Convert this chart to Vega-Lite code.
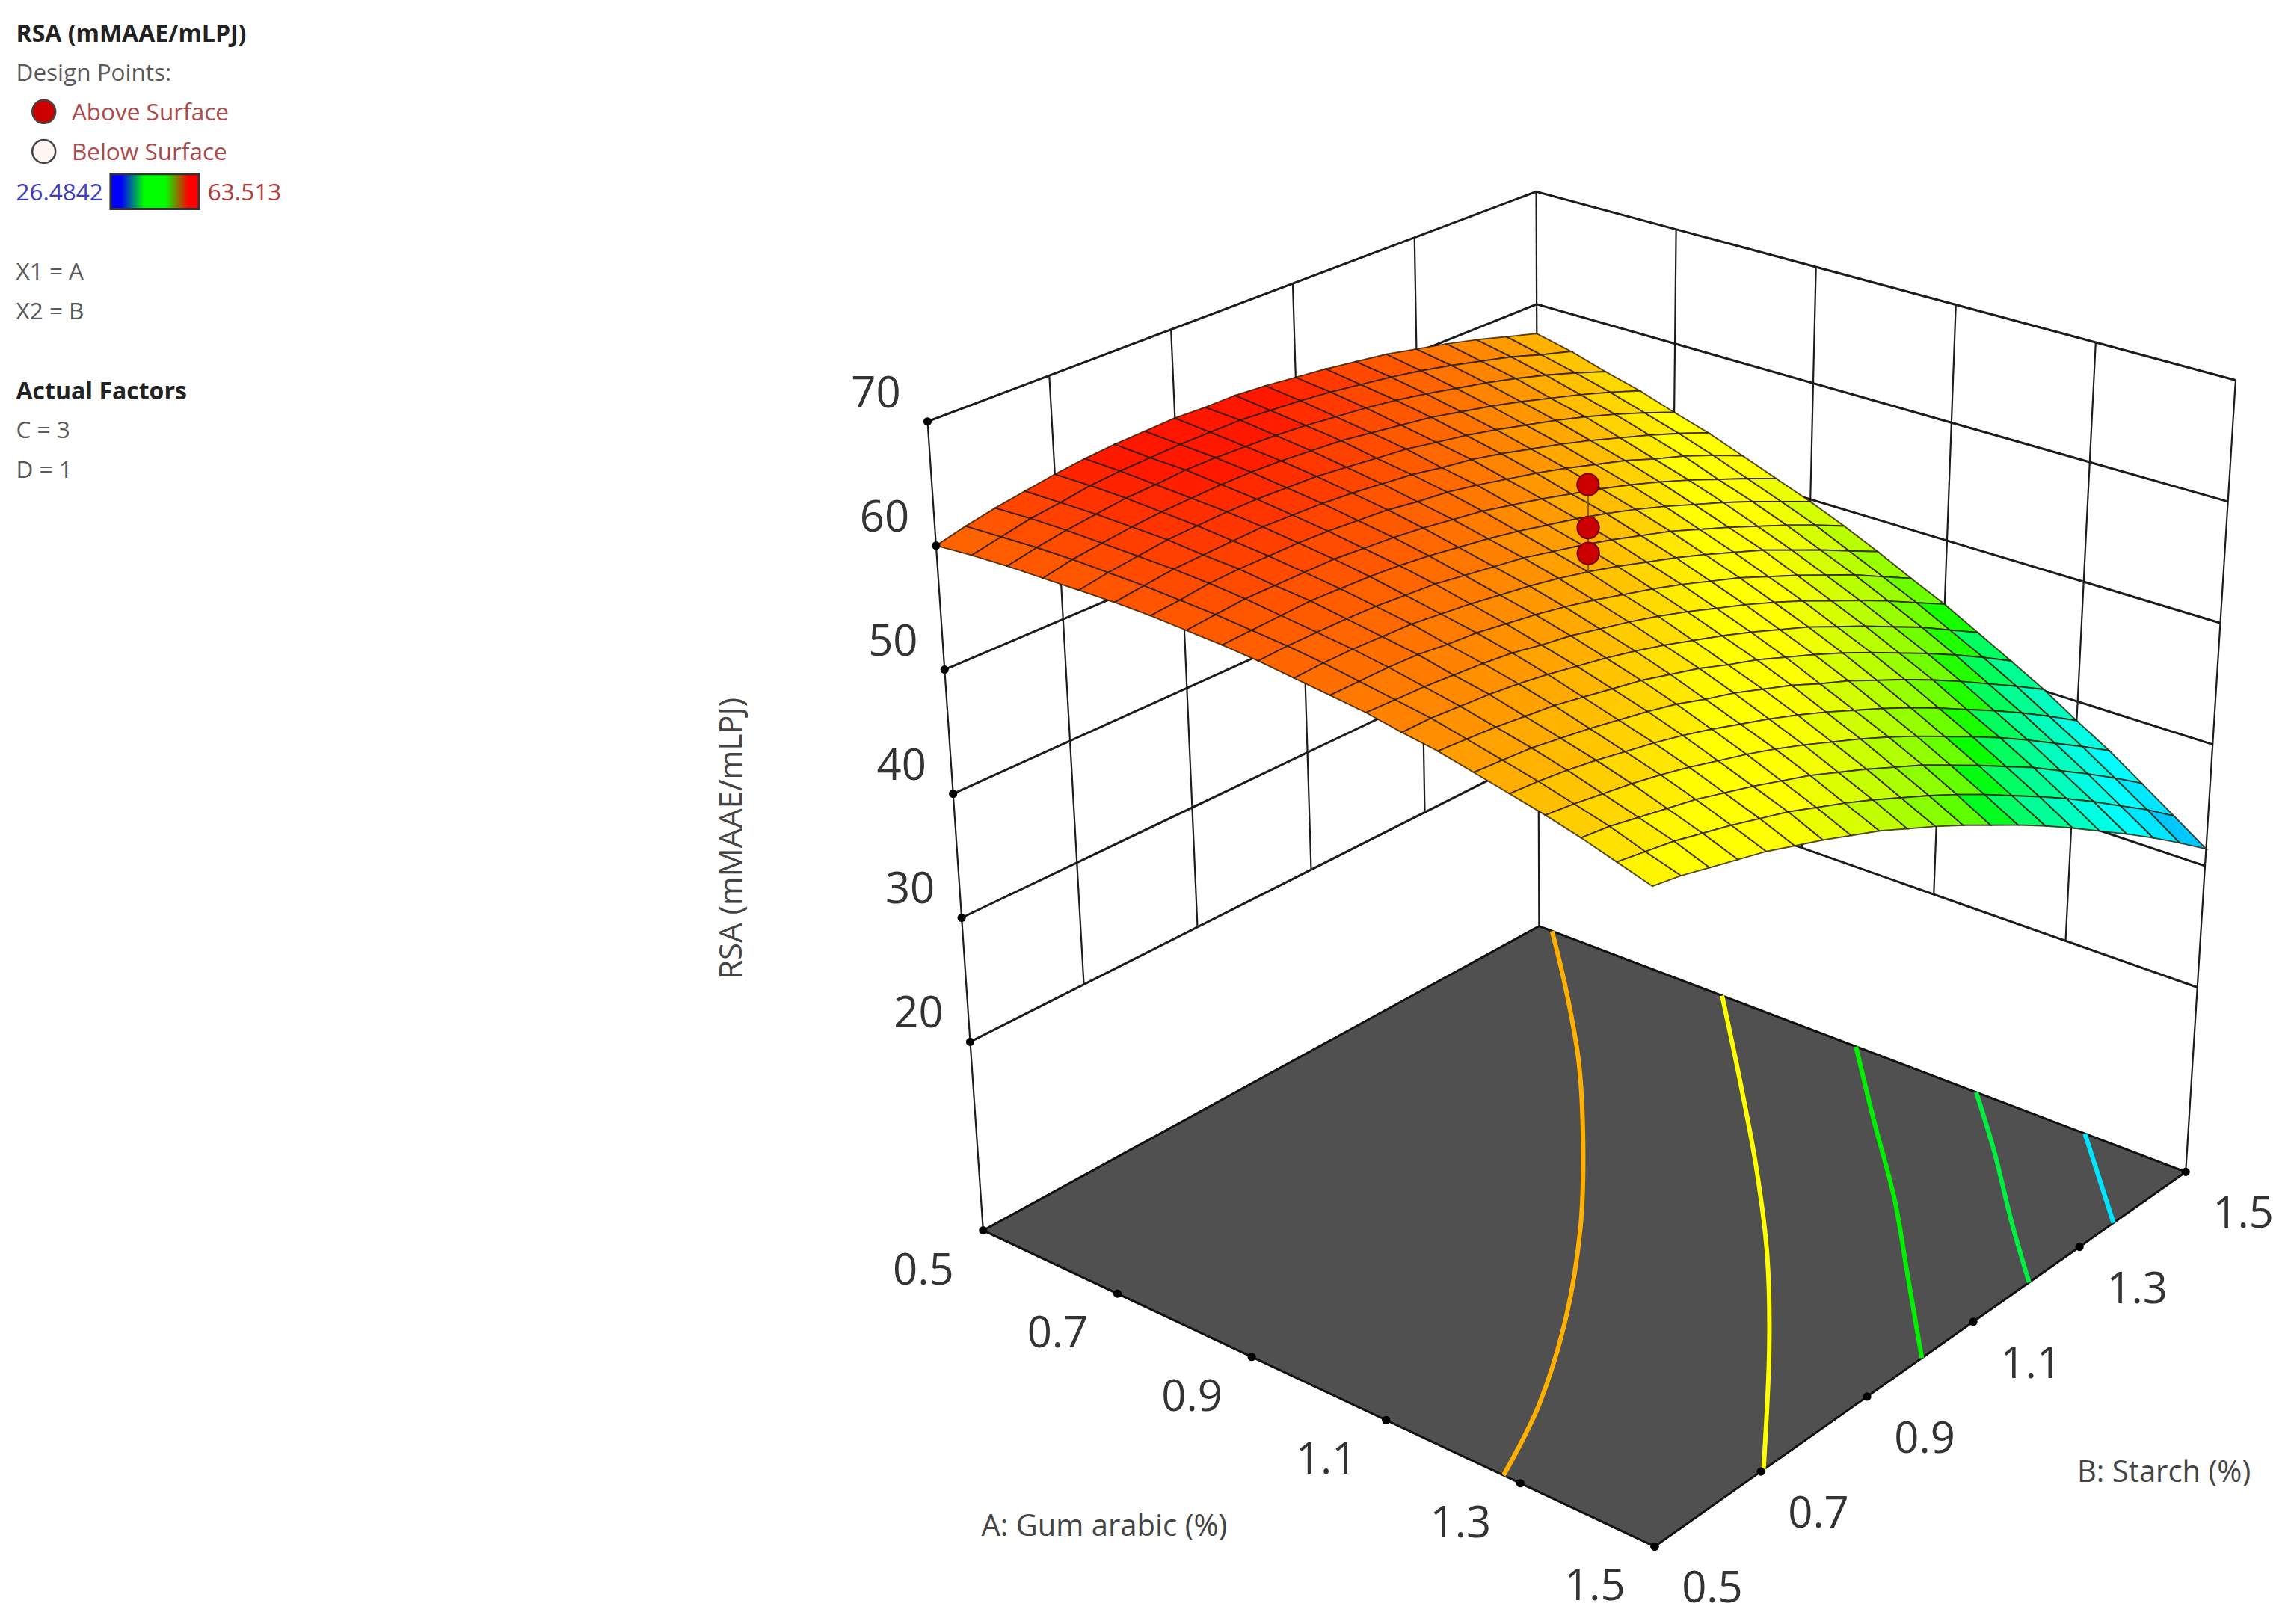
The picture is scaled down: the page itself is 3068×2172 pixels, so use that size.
{"$schema":"https://vega.github.io/schema/vega-lite/v6.json","width":3068,"height":2172,"autosize":{"type":"fit","contains":"padding"},"padding":0,"background":"white","config":{"view":{"stroke":null}},
"datasets":{
"surface":[
{"a":0.5,"b":0.5,"z":60.0},{"a":0.5,"b":0.55,"z":60.6},{"a":0.5,"b":0.6,"z":61.1},{"a":0.5,"b":0.65,"z":61.5},{"a":0.5,"b":0.7,"z":61.9},{"a":0.5,"b":0.75,"z":62.2},{"a":0.5,"b":0.8,"z":62.4},{"a":0.5,"b":0.85,"z":62.5},{"a":0.5,"b":0.9,"z":62.6},{"a":0.5,"b":0.95,"z":62.5},{"a":0.5,"b":1,"z":62.5},{"a":0.5,"b":1.05,"z":62.3},{"a":0.5,"b":1.1,"z":62.0},{"a":0.5,"b":1.15,"z":61.7},{"a":0.5,"b":1.2,"z":61.3},{"a":0.5,"b":1.25,"z":60.9},{"a":0.5,"b":1.3,"z":60.3},{"a":0.5,"b":1.35,"z":59.7},{"a":0.5,"b":1.4,"z":59.0},{"a":0.5,"b":1.45,"z":58.2},{"a":0.5,"b":1.5,"z":57.4},
{"a":0.55,"b":0.5,"z":60.3},{"a":0.55,"b":0.55,"z":60.8},{"a":0.55,"b":0.6,"z":61.3},{"a":0.55,"b":0.65,"z":61.6},{"a":0.55,"b":0.7,"z":62.0},{"a":0.55,"b":0.75,"z":62.2},{"a":0.55,"b":0.8,"z":62.3},{"a":0.55,"b":0.85,"z":62.4},{"a":0.55,"b":0.9,"z":62.4},{"a":0.55,"b":0.95,"z":62.4},{"a":0.55,"b":1,"z":62.2},{"a":0.55,"b":1.05,"z":62.0},{"a":0.55,"b":1.1,"z":61.7},{"a":0.55,"b":1.15,"z":61.3},{"a":0.55,"b":1.2,"z":60.9},{"a":0.55,"b":1.25,"z":60.4},{"a":0.55,"b":1.3,"z":59.8},{"a":0.55,"b":1.35,"z":59.1},{"a":0.55,"b":1.4,"z":58.4},{"a":0.55,"b":1.45,"z":57.5},{"a":0.55,"b":1.5,"z":56.7},
{"a":0.6,"b":0.5,"z":60.5},{"a":0.6,"b":0.55,"z":61.0},{"a":0.6,"b":0.6,"z":61.4},{"a":0.6,"b":0.65,"z":61.7},{"a":0.6,"b":0.7,"z":62.0},{"a":0.6,"b":0.75,"z":62.1},{"a":0.6,"b":0.8,"z":62.3},{"a":0.6,"b":0.85,"z":62.3},{"a":0.6,"b":0.9,"z":62.2},{"a":0.6,"b":0.95,"z":62.1},{"a":0.6,"b":1,"z":61.9},{"a":0.6,"b":1.05,"z":61.6},{"a":0.6,"b":1.1,"z":61.3},{"a":0.6,"b":1.15,"z":60.9},{"a":0.6,"b":1.2,"z":60.4},{"a":0.6,"b":1.25,"z":59.8},{"a":0.6,"b":1.3,"z":59.2},{"a":0.6,"b":1.35,"z":58.5},{"a":0.6,"b":1.4,"z":57.7},{"a":0.6,"b":1.45,"z":56.8},{"a":0.6,"b":1.5,"z":55.8},
{"a":0.65,"b":0.5,"z":60.6},{"a":0.65,"b":0.55,"z":61.1},{"a":0.65,"b":0.6,"z":61.4},{"a":0.65,"b":0.65,"z":61.7},{"a":0.65,"b":0.7,"z":61.9},{"a":0.65,"b":0.75,"z":62.0},{"a":0.65,"b":0.8,"z":62.1},{"a":0.65,"b":0.85,"z":62.1},{"a":0.65,"b":0.9,"z":62.0},{"a":0.65,"b":0.95,"z":61.8},{"a":0.65,"b":1,"z":61.6},{"a":0.65,"b":1.05,"z":61.2},{"a":0.65,"b":1.1,"z":60.8},{"a":0.65,"b":1.15,"z":60.4},{"a":0.65,"b":1.2,"z":59.8},{"a":0.65,"b":1.25,"z":59.2},{"a":0.65,"b":1.3,"z":58.5},{"a":0.65,"b":1.35,"z":57.7},{"a":0.65,"b":1.4,"z":56.9},{"a":0.65,"b":1.45,"z":56.0},{"a":0.65,"b":1.5,"z":55.0},
{"a":0.7,"b":0.5,"z":60.7},{"a":0.7,"b":0.55,"z":61.1},{"a":0.7,"b":0.6,"z":61.4},{"a":0.7,"b":0.65,"z":61.7},{"a":0.7,"b":0.7,"z":61.8},{"a":0.7,"b":0.75,"z":61.9},{"a":0.7,"b":0.8,"z":61.9},{"a":0.7,"b":0.85,"z":61.8},{"a":0.7,"b":0.9,"z":61.7},{"a":0.7,"b":0.95,"z":61.4},{"a":0.7,"b":1,"z":61.1},{"a":0.7,"b":1.05,"z":60.8},{"a":0.7,"b":1.1,"z":60.3},{"a":0.7,"b":1.15,"z":59.8},{"a":0.7,"b":1.2,"z":59.2},{"a":0.7,"b":1.25,"z":58.5},{"a":0.7,"b":1.3,"z":57.8},{"a":0.7,"b":1.35,"z":57.0},{"a":0.7,"b":1.4,"z":56.1},{"a":0.7,"b":1.45,"z":55.1},{"a":0.7,"b":1.5,"z":54.0},
{"a":0.75,"b":0.5,"z":60.8},{"a":0.75,"b":0.55,"z":61.1},{"a":0.75,"b":0.6,"z":61.4},{"a":0.75,"b":0.65,"z":61.5},{"a":0.75,"b":0.7,"z":61.6},{"a":0.75,"b":0.75,"z":61.7},{"a":0.75,"b":0.8,"z":61.6},{"a":0.75,"b":0.85,"z":61.5},{"a":0.75,"b":0.9,"z":61.3},{"a":0.75,"b":0.95,"z":61.0},{"a":0.75,"b":1,"z":60.7},{"a":0.75,"b":1.05,"z":60.2},{"a":0.75,"b":1.1,"z":59.8},{"a":0.75,"b":1.15,"z":59.2},{"a":0.75,"b":1.2,"z":58.5},{"a":0.75,"b":1.25,"z":57.8},{"a":0.75,"b":1.3,"z":57.0},{"a":0.75,"b":1.35,"z":56.1},{"a":0.75,"b":1.4,"z":55.2},{"a":0.75,"b":1.45,"z":54.2},{"a":0.75,"b":1.5,"z":53.1},
{"a":0.8,"b":0.5,"z":60.8},{"a":0.8,"b":0.55,"z":61.0},{"a":0.8,"b":0.6,"z":61.3},{"a":0.8,"b":0.65,"z":61.4},{"a":0.8,"b":0.7,"z":61.4},{"a":0.8,"b":0.75,"z":61.4},{"a":0.8,"b":0.8,"z":61.3},{"a":0.8,"b":0.85,"z":61.1},{"a":0.8,"b":0.9,"z":60.9},{"a":0.8,"b":0.95,"z":60.5},{"a":0.8,"b":1,"z":60.2},{"a":0.8,"b":1.05,"z":59.7},{"a":0.8,"b":1.1,"z":59.1},{"a":0.8,"b":1.15,"z":58.5},{"a":0.8,"b":1.2,"z":57.8},{"a":0.8,"b":1.25,"z":57.0},{"a":0.8,"b":1.3,"z":56.2},{"a":0.8,"b":1.35,"z":55.2},{"a":0.8,"b":1.4,"z":54.3},{"a":0.8,"b":1.45,"z":53.2},{"a":0.8,"b":1.5,"z":52.0},
{"a":0.85,"b":0.5,"z":60.7},{"a":0.85,"b":0.55,"z":60.9},{"a":0.85,"b":0.6,"z":61.1},{"a":0.85,"b":0.65,"z":61.1},{"a":0.85,"b":0.7,"z":61.1},{"a":0.85,"b":0.75,"z":61.1},{"a":0.85,"b":0.8,"z":60.9},{"a":0.85,"b":0.85,"z":60.7},{"a":0.85,"b":0.9,"z":60.4},{"a":0.85,"b":0.95,"z":60.0},{"a":0.85,"b":1,"z":59.6},{"a":0.85,"b":1.05,"z":59.0},{"a":0.85,"b":1.1,"z":58.4},{"a":0.85,"b":1.15,"z":57.7},{"a":0.85,"b":1.2,"z":57.0},{"a":0.85,"b":1.25,"z":56.2},{"a":0.85,"b":1.3,"z":55.3},{"a":0.85,"b":1.35,"z":54.3},{"a":0.85,"b":1.4,"z":53.2},{"a":0.85,"b":1.45,"z":52.1},{"a":0.85,"b":1.5,"z":50.9},
{"a":0.9,"b":0.5,"z":60.6},{"a":0.9,"b":0.55,"z":60.7},{"a":0.9,"b":0.6,"z":60.8},{"a":0.9,"b":0.65,"z":60.9},{"a":0.9,"b":0.7,"z":60.8},{"a":0.9,"b":0.75,"z":60.7},{"a":0.9,"b":0.8,"z":60.5},{"a":0.9,"b":0.85,"z":60.2},{"a":0.9,"b":0.9,"z":59.8},{"a":0.9,"b":0.95,"z":59.4},{"a":0.9,"b":1,"z":58.9},{"a":0.9,"b":1.05,"z":58.3},{"a":0.9,"b":1.1,"z":57.7},{"a":0.9,"b":1.15,"z":57.0},{"a":0.9,"b":1.2,"z":56.2},{"a":0.9,"b":1.25,"z":55.3},{"a":0.9,"b":1.3,"z":54.3},{"a":0.9,"b":1.35,"z":53.3},{"a":0.9,"b":1.4,"z":52.2},{"a":0.9,"b":1.45,"z":51.0},{"a":0.9,"b":1.5,"z":49.8},
{"a":0.95,"b":0.5,"z":60.4},{"a":0.95,"b":0.55,"z":60.5},{"a":0.95,"b":0.6,"z":60.5},{"a":0.95,"b":0.65,"z":60.5},{"a":0.95,"b":0.7,"z":60.4},{"a":0.95,"b":0.75,"z":60.2},{"a":0.95,"b":0.8,"z":60.0},{"a":0.95,"b":0.85,"z":59.6},{"a":0.95,"b":0.9,"z":59.2},{"a":0.95,"b":0.95,"z":58.8},{"a":0.95,"b":1,"z":58.2},{"a":0.95,"b":1.05,"z":57.6},{"a":0.95,"b":1.1,"z":56.9},{"a":0.95,"b":1.15,"z":56.1},{"a":0.95,"b":1.2,"z":55.3},{"a":0.95,"b":1.25,"z":54.3},{"a":0.95,"b":1.3,"z":53.3},{"a":0.95,"b":1.35,"z":52.2},{"a":0.95,"b":1.4,"z":51.1},{"a":0.95,"b":1.45,"z":49.9},{"a":0.95,"b":1.5,"z":48.6},
{"a":1,"b":0.5,"z":60.1},{"a":1,"b":0.55,"z":60.2},{"a":1,"b":0.6,"z":60.2},{"a":1,"b":0.65,"z":60.1},{"a":1,"b":0.7,"z":60.0},{"a":1,"b":0.75,"z":59.7},{"a":1,"b":0.8,"z":59.4},{"a":1,"b":0.85,"z":59.0},{"a":1,"b":0.9,"z":58.6},{"a":1,"b":0.95,"z":58.1},{"a":1,"b":1,"z":57.5},{"a":1,"b":1.05,"z":56.8},{"a":1,"b":1.1,"z":56.0},{"a":1,"b":1.15,"z":55.2},{"a":1,"b":1.2,"z":54.3},{"a":1,"b":1.25,"z":53.3},{"a":1,"b":1.3,"z":52.3},{"a":1,"b":1.35,"z":51.1},{"a":1,"b":1.4,"z":49.9},{"a":1,"b":1.45,"z":48.6},{"a":1,"b":1.5,"z":47.3},
{"a":1.05,"b":0.5,"z":59.8},{"a":1.05,"b":0.55,"z":59.8},{"a":1.05,"b":0.6,"z":59.8},{"a":1.05,"b":0.65,"z":59.7},{"a":1.05,"b":0.7,"z":59.4},{"a":1.05,"b":0.75,"z":59.2},{"a":1.05,"b":0.8,"z":58.8},{"a":1.05,"b":0.85,"z":58.4},{"a":1.05,"b":0.9,"z":57.9},{"a":1.05,"b":0.95,"z":57.3},{"a":1.05,"b":1,"z":56.6},{"a":1.05,"b":1.05,"z":55.9},{"a":1.05,"b":1.1,"z":55.1},{"a":1.05,"b":1.15,"z":54.2},{"a":1.05,"b":1.2,"z":53.3},{"a":1.05,"b":1.25,"z":52.2},{"a":1.05,"b":1.3,"z":51.1},{"a":1.05,"b":1.35,"z":49.9},{"a":1.05,"b":1.4,"z":48.7},{"a":1.05,"b":1.45,"z":47.3},{"a":1.05,"b":1.5,"z":45.9},
{"a":1.1,"b":0.5,"z":59.5},{"a":1.1,"b":0.55,"z":59.4},{"a":1.1,"b":0.6,"z":59.3},{"a":1.1,"b":0.65,"z":59.1},{"a":1.1,"b":0.7,"z":58.9},{"a":1.1,"b":0.75,"z":58.6},{"a":1.1,"b":0.8,"z":58.1},{"a":1.1,"b":0.85,"z":57.7},{"a":1.1,"b":0.9,"z":57.1},{"a":1.1,"b":0.95,"z":56.5},{"a":1.1,"b":1,"z":55.8},{"a":1.1,"b":1.05,"z":55.0},{"a":1.1,"b":1.1,"z":54.1},{"a":1.1,"b":1.15,"z":53.2},{"a":1.1,"b":1.2,"z":52.2},{"a":1.1,"b":1.25,"z":51.1},{"a":1.1,"b":1.3,"z":49.9},{"a":1.1,"b":1.35,"z":48.7},{"a":1.1,"b":1.4,"z":47.4},{"a":1.1,"b":1.45,"z":46.0},{"a":1.1,"b":1.5,"z":44.6},
{"a":1.15,"b":0.5,"z":59.0},{"a":1.15,"b":0.55,"z":59.0},{"a":1.15,"b":0.6,"z":58.8},{"a":1.15,"b":0.65,"z":58.6},{"a":1.15,"b":0.7,"z":58.3},{"a":1.15,"b":0.75,"z":57.9},{"a":1.15,"b":0.8,"z":57.4},{"a":1.15,"b":0.85,"z":56.9},{"a":1.15,"b":0.9,"z":56.3},{"a":1.15,"b":0.95,"z":55.6},{"a":1.15,"b":1,"z":54.8},{"a":1.15,"b":1.05,"z":54.0},{"a":1.15,"b":1.1,"z":53.1},{"a":1.15,"b":1.15,"z":52.1},{"a":1.15,"b":1.2,"z":51.1},{"a":1.15,"b":1.25,"z":49.9},{"a":1.15,"b":1.3,"z":48.7},{"a":1.15,"b":1.35,"z":47.4},{"a":1.15,"b":1.4,"z":46.1},{"a":1.15,"b":1.45,"z":44.6},{"a":1.15,"b":1.5,"z":43.1},
{"a":1.2,"b":0.5,"z":58.6},{"a":1.2,"b":0.55,"z":58.4},{"a":1.2,"b":0.6,"z":58.2},{"a":1.2,"b":0.65,"z":57.9},{"a":1.2,"b":0.7,"z":57.6},{"a":1.2,"b":0.75,"z":57.1},{"a":1.2,"b":0.8,"z":56.6},{"a":1.2,"b":0.85,"z":56.1},{"a":1.2,"b":0.9,"z":55.4},{"a":1.2,"b":0.95,"z":54.7},{"a":1.2,"b":1,"z":53.8},{"a":1.2,"b":1.05,"z":53.0},{"a":1.2,"b":1.1,"z":52.0},{"a":1.2,"b":1.15,"z":51.0},{"a":1.2,"b":1.2,"z":49.9},{"a":1.2,"b":1.25,"z":48.7},{"a":1.2,"b":1.3,"z":47.4},{"a":1.2,"b":1.35,"z":46.1},{"a":1.2,"b":1.4,"z":44.7},{"a":1.2,"b":1.45,"z":43.2},{"a":1.2,"b":1.5,"z":41.6},
{"a":1.25,"b":0.5,"z":58.0},{"a":1.25,"b":0.55,"z":57.8},{"a":1.25,"b":0.6,"z":57.6},{"a":1.25,"b":0.65,"z":57.2},{"a":1.25,"b":0.7,"z":56.8},{"a":1.25,"b":0.75,"z":56.3},{"a":1.25,"b":0.8,"z":55.8},{"a":1.25,"b":0.85,"z":55.2},{"a":1.25,"b":0.9,"z":54.4},{"a":1.25,"b":0.95,"z":53.7},{"a":1.25,"b":1,"z":52.8},{"a":1.25,"b":1.05,"z":51.9},{"a":1.25,"b":1.1,"z":50.8},{"a":1.25,"b":1.15,"z":49.8},{"a":1.25,"b":1.2,"z":48.6},{"a":1.25,"b":1.25,"z":47.4},{"a":1.25,"b":1.3,"z":46.1},{"a":1.25,"b":1.35,"z":44.7},{"a":1.25,"b":1.4,"z":43.2},{"a":1.25,"b":1.45,"z":41.7},{"a":1.25,"b":1.5,"z":40.1},
{"a":1.3,"b":0.5,"z":57.4},{"a":1.3,"b":0.55,"z":57.2},{"a":1.3,"b":0.6,"z":56.9},{"a":1.3,"b":0.65,"z":56.5},{"a":1.3,"b":0.7,"z":56.0},{"a":1.3,"b":0.75,"z":55.5},{"a":1.3,"b":0.8,"z":54.9},{"a":1.3,"b":0.85,"z":54.2},{"a":1.3,"b":0.9,"z":53.4},{"a":1.3,"b":0.95,"z":52.6},{"a":1.3,"b":1,"z":51.7},{"a":1.3,"b":1.05,"z":50.7},{"a":1.3,"b":1.1,"z":49.6},{"a":1.3,"b":1.15,"z":48.5},{"a":1.3,"b":1.2,"z":47.3},{"a":1.3,"b":1.25,"z":46.0},{"a":1.3,"b":1.3,"z":44.6},{"a":1.3,"b":1.35,"z":43.2},{"a":1.3,"b":1.4,"z":41.7},{"a":1.3,"b":1.45,"z":40.1},{"a":1.3,"b":1.5,"z":38.4},
{"a":1.35,"b":0.5,"z":56.8},{"a":1.35,"b":0.55,"z":56.5},{"a":1.35,"b":0.6,"z":56.1},{"a":1.35,"b":0.65,"z":55.7},{"a":1.35,"b":0.7,"z":55.2},{"a":1.35,"b":0.75,"z":54.6},{"a":1.35,"b":0.8,"z":53.9},{"a":1.35,"b":0.85,"z":53.2},{"a":1.35,"b":0.9,"z":52.4},{"a":1.35,"b":0.95,"z":51.5},{"a":1.35,"b":1,"z":50.5},{"a":1.35,"b":1.05,"z":49.5},{"a":1.35,"b":1.1,"z":48.4},{"a":1.35,"b":1.15,"z":47.2},{"a":1.35,"b":1.2,"z":45.9},{"a":1.35,"b":1.25,"z":44.6},{"a":1.35,"b":1.3,"z":43.2},{"a":1.35,"b":1.35,"z":41.7},{"a":1.35,"b":1.4,"z":40.1},{"a":1.35,"b":1.45,"z":38.5},{"a":1.35,"b":1.5,"z":36.8},
{"a":1.4,"b":0.5,"z":56.1},{"a":1.4,"b":0.55,"z":55.8},{"a":1.4,"b":0.6,"z":55.3},{"a":1.4,"b":0.65,"z":54.8},{"a":1.4,"b":0.7,"z":54.3},{"a":1.4,"b":0.75,"z":53.6},{"a":1.4,"b":0.8,"z":52.9},{"a":1.4,"b":0.85,"z":52.1},{"a":1.4,"b":0.9,"z":51.3},{"a":1.4,"b":0.95,"z":50.3},{"a":1.4,"b":1,"z":49.3},{"a":1.4,"b":1.05,"z":48.2},{"a":1.4,"b":1.1,"z":47.1},{"a":1.4,"b":1.15,"z":45.8},{"a":1.4,"b":1.2,"z":44.5},{"a":1.4,"b":1.25,"z":43.1},{"a":1.4,"b":1.3,"z":41.7},{"a":1.4,"b":1.35,"z":40.1},{"a":1.4,"b":1.4,"z":38.5},{"a":1.4,"b":1.45,"z":36.8},{"a":1.4,"b":1.5,"z":35.0},
{"a":1.45,"b":0.5,"z":55.3},{"a":1.45,"b":0.55,"z":54.9},{"a":1.45,"b":0.6,"z":54.5},{"a":1.45,"b":0.65,"z":53.9},{"a":1.45,"b":0.7,"z":53.3},{"a":1.45,"b":0.75,"z":52.6},{"a":1.45,"b":0.8,"z":51.9},{"a":1.45,"b":0.85,"z":51.0},{"a":1.45,"b":0.9,"z":50.1},{"a":1.45,"b":0.95,"z":49.1},{"a":1.45,"b":1,"z":48.0},{"a":1.45,"b":1.05,"z":46.9},{"a":1.45,"b":1.1,"z":45.7},{"a":1.45,"b":1.15,"z":44.4},{"a":1.45,"b":1.2,"z":43.0},{"a":1.45,"b":1.25,"z":41.6},{"a":1.45,"b":1.3,"z":40.1},{"a":1.45,"b":1.35,"z":38.5},{"a":1.45,"b":1.4,"z":36.8},{"a":1.45,"b":1.45,"z":35.1},{"a":1.45,"b":1.5,"z":33.2},
{"a":1.5,"b":0.5,"z":54.5},{"a":1.5,"b":0.55,"z":54.1},{"a":1.5,"b":0.6,"z":53.5},{"a":1.5,"b":0.65,"z":52.9},{"a":1.5,"b":0.7,"z":52.3},{"a":1.5,"b":0.75,"z":51.5},{"a":1.5,"b":0.8,"z":50.7},{"a":1.5,"b":0.85,"z":49.8},{"a":1.5,"b":0.9,"z":48.9},{"a":1.5,"b":0.95,"z":47.8},{"a":1.5,"b":1,"z":46.7},{"a":1.5,"b":1.05,"z":45.5},{"a":1.5,"b":1.1,"z":44.2},{"a":1.5,"b":1.15,"z":42.9},{"a":1.5,"b":1.2,"z":41.5},{"a":1.5,"b":1.25,"z":40.0},{"a":1.5,"b":1.3,"z":38.4},{"a":1.5,"b":1.35,"z":36.8},{"a":1.5,"b":1.4,"z":35.1},{"a":1.5,"b":1.45,"z":33.3},{"a":1.5,"b":1.5,"z":31.4}
],
"frame":[
{"kind":"level","id":"z20","o":0,"a":0.5,"b":0.5,"z":20},{"kind":"level","id":"z20","o":1,"a":0.5,"b":1.5,"z":20},{"kind":"level","id":"z20","o":2,"a":1.5,"b":1.5,"z":20},
{"kind":"level","id":"z30","o":0,"a":0.5,"b":0.5,"z":30},{"kind":"level","id":"z30","o":1,"a":0.5,"b":1.5,"z":30},{"kind":"level","id":"z30","o":2,"a":1.5,"b":1.5,"z":30},
{"kind":"level","id":"z40","o":0,"a":0.5,"b":0.5,"z":40},{"kind":"level","id":"z40","o":1,"a":0.5,"b":1.5,"z":40},{"kind":"level","id":"z40","o":2,"a":1.5,"b":1.5,"z":40},
{"kind":"level","id":"z50","o":0,"a":0.5,"b":0.5,"z":50},{"kind":"level","id":"z50","o":1,"a":0.5,"b":1.5,"z":50},{"kind":"level","id":"z50","o":2,"a":1.5,"b":1.5,"z":50},
{"kind":"level","id":"z60","o":0,"a":0.5,"b":0.5,"z":60},{"kind":"level","id":"z60","o":1,"a":0.5,"b":1.5,"z":60},{"kind":"level","id":"z60","o":2,"a":1.5,"b":1.5,"z":60},
{"kind":"level","id":"z70","o":0,"a":0.5,"b":0.5,"z":70},{"kind":"level","id":"z70","o":1,"a":0.5,"b":1.5,"z":70},{"kind":"level","id":"z70","o":2,"a":1.5,"b":1.5,"z":70},
{"kind":"wall","id":"left","o":0,"a":0.5,"b":0.5,"z":4.8},{"kind":"wall","id":"left","o":1,"a":0.5,"b":0.5,"z":70},
{"kind":"wall","id":"back","o":0,"a":0.5,"b":1.5,"z":4.8},{"kind":"wall","id":"back","o":1,"a":0.5,"b":1.5,"z":70},
{"kind":"wall","id":"right","o":0,"a":1.5,"b":1.5,"z":4.8},{"kind":"wall","id":"right","o":1,"a":1.5,"b":1.5,"z":70},
{"kind":"wall","id":"b07","o":0,"a":0.5,"b":0.7,"z":20},{"kind":"wall","id":"b07","o":1,"a":0.5,"b":0.7,"z":70},
{"kind":"wall","id":"b09","o":0,"a":0.5,"b":0.9,"z":20},{"kind":"wall","id":"b09","o":1,"a":0.5,"b":0.9,"z":70},
{"kind":"wall","id":"b11","o":0,"a":0.5,"b":1.1,"z":20},{"kind":"wall","id":"b11","o":1,"a":0.5,"b":1.1,"z":70},
{"kind":"wall","id":"b13","o":0,"a":0.5,"b":1.3,"z":20},{"kind":"wall","id":"b13","o":1,"a":0.5,"b":1.3,"z":70},
{"kind":"wall","id":"a07","o":0,"a":0.7,"b":1.5,"z":20},{"kind":"wall","id":"a07","o":1,"a":0.7,"b":1.5,"z":70},
{"kind":"wall","id":"a09","o":0,"a":0.9,"b":1.5,"z":20},{"kind":"wall","id":"a09","o":1,"a":0.9,"b":1.5,"z":70},
{"kind":"wall","id":"a11","o":0,"a":1.1,"b":1.5,"z":20},{"kind":"wall","id":"a11","o":1,"a":1.1,"b":1.5,"z":70},
{"kind":"wall","id":"a13","o":0,"a":1.3,"b":1.5,"z":20},{"kind":"wall","id":"a13","o":1,"a":1.3,"b":1.5,"z":70},
{"kind":"floor","id":"floor","o":0,"a":0.5,"b":0.5,"z":4.8},{"kind":"floor","id":"floor","o":1,"a":1.5,"b":0.5,"z":4.8},{"kind":"floor","id":"floor","o":2,"a":1.5,"b":1.5,"z":4.8},{"kind":"floor","id":"floor","o":3,"a":0.5,"b":1.5,"z":4.8},
{"kind":"contour","level":"57","o":0,"a":1.275,"b":0.5,"z":4.8},{"kind":"contour","level":"57","o":1,"a":1.212,"b":0.645,"z":4.8},{"kind":"contour","level":"57","o":2,"a":1.117,"b":0.812,"z":4.8},{"kind":"contour","level":"57","o":3,"a":1.005,"b":0.975,"z":4.8},{"kind":"contour","level":"57","o":4,"a":0.89,"b":1.119,"z":4.8},{"kind":"contour","level":"57","o":5,"a":0.759,"b":1.268,"z":4.8},{"kind":"contour","level":"57","o":6,"a":0.633,"b":1.394,"z":4.8},{"kind":"contour","level":"57","o":7,"a":0.52,"b":1.5,"z":4.8},
{"kind":"contour","level":"52","o":0,"a":1.5,"b":0.705,"z":4.8},{"kind":"contour","level":"52","o":1,"a":1.348,"b":0.905,"z":4.8},{"kind":"contour","level":"52","o":2,"a":1.214,"b":1.066,"z":4.8},{"kind":"contour","level":"52","o":3,"a":1.078,"b":1.211,"z":4.8},{"kind":"contour","level":"52","o":4,"a":0.931,"b":1.357,"z":4.8},{"kind":"contour","level":"52","o":5,"a":0.783,"b":1.5,"z":4.8},
{"kind":"contour","level":"47","o":0,"a":1.5,"b":1.003,"z":4.8},{"kind":"contour","level":"47","o":1,"a":1.375,"b":1.131,"z":4.8},{"kind":"contour","level":"47","o":2,"a":1.253,"b":1.255,"z":4.8},{"kind":"contour","level":"47","o":3,"a":1.121,"b":1.377,"z":4.8},{"kind":"contour","level":"47","o":4,"a":0.99,"b":1.5,"z":4.8},
{"kind":"contour","level":"42","o":0,"a":1.5,"b":1.205,"z":4.8},{"kind":"contour","level":"42","o":1,"a":1.398,"b":1.297,"z":4.8},{"kind":"contour","level":"42","o":2,"a":1.281,"b":1.407,"z":4.8},{"kind":"contour","level":"42","o":3,"a":1.176,"b":1.5,"z":4.8},
{"kind":"contour","level":"36","o":0,"a":1.5,"b":1.364,"z":4.8},{"kind":"contour","level":"36","o":1,"a":1.344,"b":1.5,"z":4.8},
{"kind":"ztick","label":"20","a":0.5,"b":0.5,"z":20},{"kind":"ztick","label":"30","a":0.5,"b":0.5,"z":30},{"kind":"ztick","label":"40","a":0.5,"b":0.5,"z":40},{"kind":"ztick","label":"50","a":0.5,"b":0.5,"z":50},{"kind":"ztick","label":"60","a":0.5,"b":0.5,"z":60},{"kind":"ztick","label":"70","a":0.5,"b":0.5,"z":70},
{"kind":"atick","label":"0.5","a":0.5,"b":0.5,"z":4.8},{"kind":"atick","label":"0.7","a":0.7,"b":0.5,"z":4.8},{"kind":"atick","label":"0.9","a":0.9,"b":0.5,"z":4.8},{"kind":"atick","label":"1.1","a":1.1,"b":0.5,"z":4.8},{"kind":"atick","label":"1.3","a":1.3,"b":0.5,"z":4.8},{"kind":"atick","label":"1.5","a":1.5,"b":0.5,"z":4.8},
{"kind":"btick","label":"0.5","a":1.5,"b":0.5,"z":4.8},{"kind":"btick","label":"0.7","a":1.5,"b":0.7,"z":4.8},{"kind":"btick","label":"0.9","a":1.5,"b":0.9,"z":4.8},{"kind":"btick","label":"1.1","a":1.5,"b":1.1,"z":4.8},{"kind":"btick","label":"1.3","a":1.5,"b":1.3,"z":4.8},{"kind":"btick","label":"1.5","a":1.5,"b":1.5,"z":4.8},
{"kind":"drop","o":0,"a":1,"b":1,"z":64.6},{"kind":"drop","o":1,"a":1,"b":1,"z":57.5},
{"kind":"design","a":1,"b":1,"z":64.6},{"kind":"design","a":1,"b":1,"z":61.1},{"kind":"design","a":1,"b":1,"z":59.0},
{"kind":"atitle","label":"A: Gum arabic (%)","a":1,"b":0.5,"z":4.8},{"kind":"btitle","label":"B: Starch (%)","a":1.5,"b":1,"z":4.8},{"kind":"ztitle","label":"RSA (mMAAE/mLPJ)","a":0.5,"b":0.5,"z":36.4}
],
"panel":[
{"line":0,"col":1.1,"text":"RSA (mMAAE/mLPJ)","role":"heading"},
{"line":1,"col":1.1,"text":"Design Points:","role":"plain"},
{"line":2,"col":4.9,"text":"Above Surface","role":"surface"},
{"line":3,"col":4.9,"text":"Below Surface","role":"surface"},
{"line":4,"col":1.1,"text":"26.4842","role":"low"},
{"line":4,"col":14.2,"text":"63.513","role":"high"},
{"line":6,"col":1.1,"text":"X1 = A","role":"plain"},
{"line":7,"col":1.1,"text":"X2 = B","role":"plain"},
{"line":9,"col":1.1,"text":"Actual Factors","role":"heading"},
{"line":10,"col":1.1,"text":"C = 3","role":"plain"},
{"line":11,"col":1.1,"text":"D = 1","role":"plain"},
{"line":2,"col":3.0,"role":"dot-above"},
{"line":3,"col":3.0,"role":"dot-below"},
{"line":3.57,"line2":4.45,"col":7.56,"col2":13.6,"role":"bar"}
]
},
"layer":[
{"encoding":{"x":{"field":"px","type":"quantitative","scale":{"domain":[0,1568],"nice":false,"zero":false},"axis":null},"y":{"field":"py","type":"quantitative","scale":{"domain":[1110,0],"nice":false,"zero":false},"axis":null}},
"layer":[
{"data":{"name":"frame"},
"transform":[{"calculate":"datum.a-0.5","as":"u"},{"calculate":"datum.b-0.5","as":"v"},{"calculate":"672+459*datum.u+380*datum.v-17*datum.u*datum.v+(datum.z-4.8)*(-0.583+0.553*(datum.u+datum.v))","as":"px"},{"calculate":"841+216*datum.u-208*datum.v-48*datum.u*datum.v+(datum.z-4.8)*(-8.48-0.6*datum.u+0.78*datum.v)","as":"py"}],
"layer":[
{"transform":[{"filter":"datum.kind=='wall'"}],"mark":{"type":"line","stroke":"#1c1c1c","strokeWidth":2.2},"encoding":{"detail":{"field":"id","type":"nominal"},"order":{"field":"o","type":"quantitative"}}},
{"transform":[{"filter":"datum.kind=='level'"}],"mark":{"type":"line","stroke":"#1c1c1c","strokeWidth":3},"encoding":{"detail":{"field":"id","type":"nominal"},"order":{"field":"o","type":"quantitative"}}},
{"transform":[{"filter":"datum.kind=='floor'"}],"mark":{"type":"line","interpolate":"linear-closed","fill":"#505050","stroke":"#111111","strokeWidth":3},"encoding":{"detail":{"field":"id","type":"nominal"},"order":{"field":"o","type":"quantitative"}}},
{"transform":[{"filter":"datum.kind=='contour'"}],"mark":{"type":"line","interpolate":"cardinal","strokeWidth":6},"encoding":{"stroke":{"field":"level","type":"nominal","scale":{"domain":["57","52","47","42","36"],"range":["#ffb000","#ffff00","#00f000","#00f040","#00e5ff"]},"legend":null},"order":{"field":"o","type":"quantitative"}}}
]},
{"data":{"name":"surface"},
"transform":[{"calculate":"round((datum.a-0.5)*20)","as":"i"},{"calculate":"round((datum.b-0.5)*20)","as":"j"},{"calculate":"[0,1,2,3]","as":"corner"},{"flatten":["corner"]},{"calculate":"datum.i-(datum.corner==1||datum.corner==2?1:0)","as":"ci"},{"calculate":"datum.j-(datum.corner>=2?1:0)","as":"cj"},{"filter":"datum.ci>=0&&datum.ci<20&&datum.cj>=0&&datum.cj<20"},{"calculate":"datum.ci*100+datum.cj","as":"cell"},{"joinaggregate":[{"op":"mean","field":"z","as":"rsa"}],"groupby":["cell"]},{"calculate":"datum.a-0.5","as":"u"},{"calculate":"datum.b-0.5","as":"v"},{"calculate":"672+459*datum.u+380*datum.v-17*datum.u*datum.v+(datum.z-4.8)*(-0.583+0.553*(datum.u+datum.v))","as":"px"},{"calculate":"841+216*datum.u-208*datum.v-48*datum.u*datum.v+(datum.z-4.8)*(-8.48-0.6*datum.u+0.78*datum.v)","as":"py"}],
"mark":{"type":"line","interpolate":"linear-closed","stroke":"#2a1a00","strokeWidth":1.9,"strokeOpacity":0.8},
"encoding":{"detail":{"field":"cell","type":"nominal"},"order":{"field":"corner","type":"quantitative"},"fill":{"field":"rsa","type":"quantitative","scale":{"domain":[26.48,36.5,44.5,52,54.3,60,62.2,63.51],"range":["#0000ff","#00ffff","#00ff00","#ffff00","#ffff00","#ff6e00","#ff1900","#ff0000"]},"legend":null}}},
{"data":{"name":"frame"},
"transform":[{"calculate":"datum.a-0.5","as":"u"},{"calculate":"datum.b-0.5","as":"v"},{"calculate":"672+459*datum.u+380*datum.v-17*datum.u*datum.v+(datum.z-4.8)*(-0.583+0.553*(datum.u+datum.v))","as":"px"},{"calculate":"841+216*datum.u-208*datum.v-48*datum.u*datum.v+(datum.z-4.8)*(-8.48-0.6*datum.u+0.78*datum.v)","as":"py"}],
"layer":[
{"transform":[{"filter":"datum.kind=='drop'"}],"mark":{"type":"line","stroke":"#7a5a00","strokeWidth":2},"encoding":{"order":{"field":"o","type":"quantitative"}}},
{"transform":[{"filter":"datum.kind=='design'"}],"mark":{"type":"circle","size":855,"fill":"#cc0000","stroke":"#7a0000","strokeWidth":2,"opacity":1}},
{"transform":[{"filter":"datum.kind=='ztick'||datum.kind=='atick'||datum.kind=='btick'"}],"mark":{"type":"circle","size":125,"fill":"#000000","opacity":1}},
{"transform":[{"filter":"datum.kind=='ztick'"}],"mark":{"type":"text","font":"Open Sans","fontSize":58,"fill":"#333333","align":"center","baseline":"middle","dx":-69,"dy":-36},"encoding":{"text":{"field":"label","type":"nominal"}}},
{"transform":[{"filter":"datum.kind=='atick'"}],"mark":{"type":"text","font":"Open Sans","fontSize":58,"fill":"#333333","align":"center","baseline":"middle","dx":-80,"dy":55},"encoding":{"text":{"field":"label","type":"nominal"}}},
{"transform":[{"filter":"datum.kind=='btick'"}],"mark":{"type":"text","font":"Open Sans","fontSize":58,"fill":"#333333","align":"center","baseline":"middle","dx":77,"dy":58},"encoding":{"text":{"field":"label","type":"nominal"}}},
{"transform":[{"filter":"datum.kind=='atitle'"}],"mark":{"type":"text","font":"Open Sans","fontSize":40,"fill":"#444444","align":"center","baseline":"middle","dx":-287,"dy":185},"encoding":{"text":{"field":"label","type":"nominal"}}},
{"transform":[{"filter":"datum.kind=='btitle'"}],"mark":{"type":"text","font":"Open Sans","fontSize":40,"fill":"#444444","align":"center","baseline":"middle","dx":326,"dy":152},"encoding":{"text":{"field":"label","type":"nominal"}}},
{"transform":[{"filter":"datum.kind=='ztitle'"}],"mark":{"type":"text","font":"Open Sans","fontSize":42,"fill":"#444444","align":"center","baseline":"middle","angle":270,"dx":0,"dy":-300},"encoding":{"text":{"field":"label","type":"nominal"}}}
]}
]},
{"data":{"name":"panel"},
"encoding":{"x":{"field":"col","type":"quantitative","scale":{"domain":[0,156.8],"nice":false,"zero":false},"axis":null},"y":{"field":"line","type":"quantitative","scale":{"domain":[40.07,-0.81],"nice":false,"zero":false},"axis":null}},
"layer":[
{"transform":[{"filter":"datum.role=='bar'"}],"mark":{"type":"rect","stroke":"#333333","strokeWidth":3,"fill":{"gradient":"linear","x1":0,"x2":1,"y1":0,"y2":0,"stops":[{"offset":0,"color":"#0000ff"},{"offset":0.12,"color":"#0000ff"},{"offset":0.38,"color":"#00ff00"},{"offset":0.62,"color":"#00ff00"},{"offset":0.88,"color":"#ff0000"},{"offset":1,"color":"#ff0000"}]}},"encoding":{"x2":{"field":"col2"},"y2":{"field":"line2"}}},
{"transform":[{"filter":"datum.role=='dot-above'"}],"mark":{"type":"circle","size":960,"fill":"#cc0000","stroke":"#444444","strokeWidth":2.5,"opacity":1}},
{"transform":[{"filter":"datum.role=='dot-below'"}],"mark":{"type":"circle","size":960,"fill":"#fff5f3","stroke":"#444444","strokeWidth":2.5,"opacity":1}},
{"transform":[{"filter":"datum.role=='heading'"}],"mark":{"type":"text","font":"Open Sans","fontSize":32,"fontWeight":"bold","fill":"#222222","align":"left","baseline":"middle","dy":3},"encoding":{"text":{"field":"text","type":"nominal"}}},
{"transform":[{"filter":"datum.role=='plain'||datum.role=='surface'||datum.role=='low'||datum.role=='high'"}],"mark":{"type":"text","font":"Open Sans","fontSize":31.5,"align":"left","baseline":"middle","dy":3},"encoding":{"text":{"field":"text","type":"nominal"},"color":{"field":"role","type":"nominal","scale":{"domain":["plain","surface","low","high"],"range":["#5a5a5a","#aa4a4a","#3c3cbe","#b43c3c"]},"legend":null}}}
]}
],
"resolve":{"scale":{"x":"independent","y":"independent"}}
}
